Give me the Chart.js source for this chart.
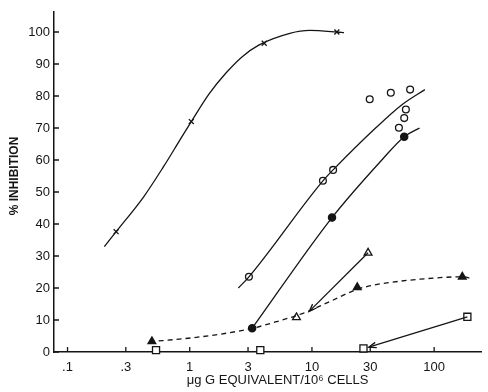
<!DOCTYPE html>
<html>
<head>
<meta charset="utf-8">
<script src="https://cdn.jsdelivr.net/npm/chart.js@4/dist/chart.umd.min.js"></script>
<style>
  html, body { margin: 0; padding: 0; background: #fff; }
  #wrap { width: 488px; height: 392px; }
</style>
</head>
<body>
<div id="wrap"><canvas id="inhibChart"></canvas></div>
<script>
// x = ug G equivalent / 10^6 cells (log), y = % inhibition
const xTicks = [0.1, 0.3, 1, 3, 10, 30, 100];
const xTickLabels = [".1", ".3", "1", "3", "10", "30", "100"];
const yTicks = [0, 10, 20, 30, 40, 50, 60, 70, 80, 90, 100];

const crossX = [0.25, 1.03, 4.07, 16];
const crossY = [37.6, 72, 96.5, 100];
const crossCurveX = [0.2, 0.25, 0.42, 0.61, 0.83, 1.03, 1.45, 1.97, 2.69, 3.67, 6.6, 9.6, 16, 18.3];
const crossCurveY = [32.9, 37.6, 48.5, 57.9, 66.2, 72, 80.8, 87.1, 92.3, 95.9, 99.6, 100.5, 100, 99.8];

const openCircX = [3.05, 12.3, 14.9, 29.7, 44.2, 63.6, 58.7, 56.9, 51.5];
const openCircY = [23.5, 53.5, 56.9, 79, 81, 82, 75.8, 73.1, 70.1];
const openCircLineX = [2.5, 3.05, 12.3, 14.9, 33, 54.2, 84];
const openCircLineY = [20, 23.5, 53.5, 56.9, 69.9, 77.2, 82];

const fillCircX = [3.24, 14.6, 56.9];
const fillCircY = [7.4, 42, 67.3];
const fillCircLineX = [3.24, 14.6, 37.3, 56.9, 76];
const fillCircLineY = [7.4, 42, 60, 67.3, 70];

const openTriX = [7.47, 28.8];
const openTriY = [10.8, 31];
const openTriLineX = [28.8, 9.5];
const openTriLineY = [31, 12.7];

const fillTriX = [0.49, 23.5, 170];
const fillTriY = [3.3, 20.2, 23.5];
const fillTriCurveX = [0.47, 0.97, 1.8, 3.24, 5.15, 8.46, 13.9, 23.5, 32, 45, 73.8, 170, 204];
const fillTriCurveY = [3.2, 4.3, 5.6, 7.4, 9.5, 12.1, 15.7, 19.6, 20.9, 21.8, 22.7, 23.5, 22.9];

const squareX = [0.53, 3.78, 26.4, 187];
const squareY = [0.6, 0.6, 1.1, 11];
const squareLineX = [187, 29.2];
const squareLineY = [11, 1.5];

const ink = "#151515";

function pts(xs, ys) {
  return xs.map((x, i) => ({ x: x, y: ys[i] }));
}

function markers(xs, ys, style, radius, fill) {
  return {
    data: pts(xs, ys),
    showLine: false,
    pointStyle: style,
    pointRadius: radius,
    pointBorderWidth: 1.3,
    pointBorderColor: ink,
    pointBackgroundColor: fill,
    clip: false
  };
}

function curve(xs, ys, opts) {
  return Object.assign({
    data: pts(xs, ys),
    showLine: true,
    pointRadius: 0,
    borderColor: ink,
    borderWidth: 1.3,
    cubicInterpolationMode: "monotone",
    clip: false
  }, opts || {});
}

// ticks drawn inward from the axis lines, arrowheads on two lines
const extras = {
  id: "extras",
  afterDatasetsDraw(chart) {
    const ctx = chart.ctx;
    const xs = chart.scales.x, ys = chart.scales.y;
    ctx.save();
    ctx.strokeStyle = ink;
    ctx.lineWidth = 1.3;
    ctx.beginPath();
    xTicks.forEach(v => {
      const px = xs.getPixelForValue(v);
      ctx.moveTo(px, ys.bottom);
      ctx.lineTo(px, ys.bottom - 5);
    });
    yTicks.forEach(v => {
      const py = ys.getPixelForValue(v);
      ctx.moveTo(xs.left, py);
      ctx.lineTo(xs.left + 5, py);
    });
    ctx.stroke();

    chart.data.datasets.forEach((ds, i) => {
      if (!ds.arrow) return;
      const el = chart.getDatasetMeta(i).data;
      const a = el[el.length - 2], b = el[el.length - 1];
      const ang = Math.atan2(b.y - a.y, b.x - a.x);
      const len = 8, spread = 0.35;
      ctx.beginPath();
      ctx.moveTo(b.x - len * Math.cos(ang - spread), b.y - len * Math.sin(ang - spread));
      ctx.lineTo(b.x, b.y);
      ctx.lineTo(b.x - len * Math.cos(ang + spread), b.y - len * Math.sin(ang + spread));
      ctx.stroke();
    });
    ctx.restore();
  }
};

new Chart("inhibChart", {
  type: "scatter",
  data: {
    datasets: [
      curve(crossCurveX, crossCurveY),
      markers(crossX, crossY, "crossRot", 3.5, ink),
      curve(openCircLineX, openCircLineY),
      markers(openCircX, openCircY, "circle", 3.4, "#fff"),
      curve(fillCircLineX, fillCircLineY),
      markers(fillCircX, fillCircY, "circle", 3.6, ink),
      curve(fillTriCurveX, fillTriCurveY, { borderDash: [5, 4] }),
      markers(fillTriX, fillTriY, "triangle", 4.5, ink),
      curve(openTriLineX, openTriLineY, { arrow: true }),
      markers(openTriX, openTriY, "triangle", 4.5, "#fff"),
      curve(squareLineX, squareLineY, { arrow: true }),
      markers(squareX, squareY, "rect", 5, "#fff")
    ]
  },
  options: {
    responsive: true,
    maintainAspectRatio: false,
    animation: false,
    layout: { padding: { top: 12, right: 0, left: 0, bottom: 0 } },
    plugins: {
      legend: { display: false },
      tooltip: { enabled: false }
    },
    scales: {
      x: {
        type: "logarithmic",
        min: 0.0775,
        max: 245,
        afterBuildTicks: s => { s.ticks = xTicks.map(v => ({ value: v })); },
        afterFit: s => { s.height = 40; },
        grid: { display: false, drawTicks: false },
        border: { display: true, color: ink, width: 1.5 },
        ticks: {
          padding: 8,
          color: ink,
          font: { family: "Liberation Sans", size: 13 },
          maxRotation: 0,
          autoSkip: false,
          callback: v => xTickLabels[xTicks.indexOf(v)]
        },
        title: {
          display: true,
          text: "\u2003\u2002\u03bcg G EQUIVALENT/10\u2076 CELLS",
          color: ink,
          font: { family: "Liberation Sans", size: 13 },
          padding: { top: 0, bottom: 4 }
        }
      },
      y: {
        min: 0,
        max: 106.25,
        afterBuildTicks: s => { s.ticks = yTicks.map(v => ({ value: v })); },
        afterFit: s => { s.width = 54; },
        grid: { display: false, drawTicks: false },
        border: { display: true, color: ink, width: 1.5 },
        ticks: {
          padding: 4,
          color: ink,
          font: { family: "Liberation Sans", size: 13 }
        },
        title: {
          display: true,
          text: "\u2003% INHIBITION",
          color: ink,
          font: { family: "Liberation Sans", size: 12, weight: "bold" },
          padding: { top: 7, bottom: 0 }
        }
      }
    }
  },
  plugins: [extras]
});
</script>
</body>
</html>
